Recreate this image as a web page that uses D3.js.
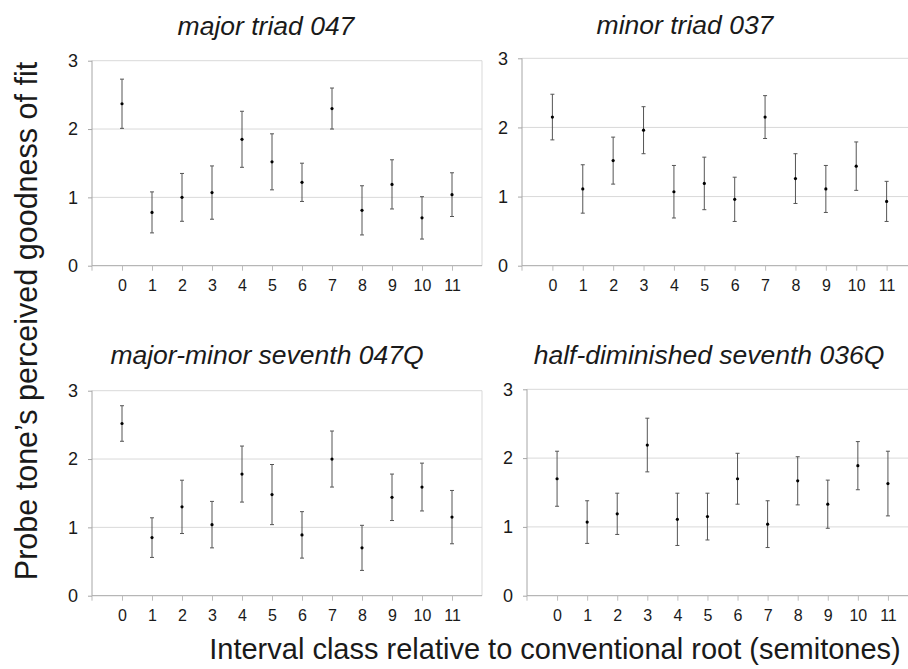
<!DOCTYPE html>
<html>
<head>
<meta charset="utf-8">
<script src="https://cdn.jsdelivr.net/npm/d3@7"></script>
<style>
  body { margin: 0; background: #fff; }
  text { font-family: Arial, "Liberation Sans", sans-serif; fill: #1a1a1a; }
</style>
</head>
<body>
<div id="chart"></div>
<script>
// categories: interval class in semitones
var categories = [0, 1, 2, 3, 4, 5, 6, 7, 8, 9, 10, 11];
var yTicks = [0, 1, 2, 3];

var titles = [
  "major triad 047",
  "minor triad 037",
  "major-minor seventh 047Q",
  "half-diminished seventh 036Q"
];

// mean ratings and error bar half-widths
var majorMean = [2.37, 0.78, 1.00, 1.07, 1.85, 1.52, 1.22, 2.30, 0.81, 1.19, 0.70, 1.04];
var majorErr  = [0.36, 0.30, 0.35, 0.39, 0.41, 0.41, 0.28, 0.30, 0.36, 0.36, 0.31, 0.32];

var minorMean = [2.15, 1.11, 1.52, 1.96, 1.07, 1.19, 0.96, 2.15, 1.26, 1.11, 1.44, 0.93];
var minorErr  = [0.33, 0.35, 0.34, 0.34, 0.38, 0.38, 0.32, 0.31, 0.36, 0.34, 0.35, 0.29];

var domSevMean = [2.52, 0.85, 1.30, 1.04, 1.78, 1.48, 0.89, 2.00, 0.70, 1.44, 1.59, 1.15];
var domSevErr  = [0.26, 0.29, 0.39, 0.34, 0.41, 0.44, 0.34, 0.41, 0.33, 0.34, 0.35, 0.39];

var halfDimMean = [1.70, 1.07, 1.19, 2.19, 1.11, 1.15, 1.70, 1.04, 1.67, 1.33, 1.89, 1.63];
var halfDimErr  = [0.40, 0.31, 0.30, 0.39, 0.38, 0.34, 0.37, 0.34, 0.35, 0.35, 0.35, 0.47];

var means = [majorMean, minorMean, domSevMean, halfDimMean];
var errs = [majorErr, minorErr, domSevErr, halfDimErr];

var font = "Arial, 'Liberation Sans', sans-serif";

// panel layout (plot area in px)
var panels = [
  { left: 92,  right: 482, top: 60.7, bottom: 265.7, tx: 266, ty: 35 },
  { left: 522, right: 917, top: 58.3, bottom: 265.7, tx: 685, ty: 34 },
  { left: 92,  right: 482, top: 390.7, bottom: 595.7, tx: 267, ty: 364 },
  { left: 527, right: 918, top: 389.3, bottom: 595.7, tx: 709, ty: 364 }
];

var W = 908, H = 669;
var svg = d3.select("#chart").append("svg")
  .attr("width", W)
  .attr("height", H);

panels.forEach(function (p, k) {
  var x = d3.scaleLinear().domain([-1, 12]).range([p.left, p.right]);
  var y = d3.scaleLinear().domain([0, 3]).range([p.bottom, p.top]);
  var g = svg.append("g");

  // gridlines
  g.selectAll(".grid")
    .data(yTicks.filter(function (d) { return d > 0; }))
    .enter()
    .append("line")
    .attr("x1", p.left).attr("x2", p.right)
    .attr("y1", function (d) { return y(d); })
    .attr("y2", function (d) { return y(d); })
    .attr("stroke", "#d9d9d9")
    .attr("stroke-width", 1);

  // right frame
  g.append("line")
    .attr("x1", p.right).attr("x2", p.right)
    .attr("y1", p.top).attr("y2", p.bottom)
    .attr("stroke", "#d9d9d9");

  // x axis
  var xAxis = g.append("g")
    .attr("transform", "translate(0," + p.bottom + ")")
    .call(d3.axisBottom(x).tickValues(categories).tickSize(5).tickPadding(9));
  xAxis.attr("font-family", font);
  xAxis.select(".domain").attr("stroke", "#a6a6a6").attr("d", "M" + p.left + ",0H" + p.right);
  xAxis.selectAll(".tick line").attr("stroke", "#bdbdbd");
  xAxis.selectAll(".tick text")
    .style("font-size", "16px")
    .style("font-family", font)
    .attr("fill", "#1a1a1a");
  xAxis.append("line")
    .attr("x1", p.left).attr("x2", p.left)
    .attr("y1", 0).attr("y2", 5)
    .attr("stroke", "#bdbdbd");

  // y axis
  var yAxis = g.append("g")
    .attr("transform", "translate(" + p.left + ",0)")
    .call(d3.axisLeft(y).tickValues(yTicks).tickFormat(d3.format("d")).tickSize(4).tickPadding(10));
  yAxis.attr("font-family", font);
  yAxis.select(".domain").attr("stroke", "#a6a6a6").attr("d", "M0," + p.top + "V" + p.bottom);
  yAxis.selectAll(".tick line").attr("stroke", "#a6a6a6");
  yAxis.selectAll(".tick text")
    .style("font-size", "18px")
    .style("font-family", font)
    .attr("fill", "#1a1a1a");

  // error bars
  var rows = categories.map(function (c, i) {
    return { c: c, m: means[k][i], e: errs[k][i] };
  });
  var bars = g.selectAll(".bar").data(rows).enter().append("g");
  bars.append("line")
    .attr("x1", function (d) { return x(d.c); })
    .attr("x2", function (d) { return x(d.c); })
    .attr("y1", function (d) { return y(d.m + d.e); })
    .attr("y2", function (d) { return y(d.m - d.e); })
    .attr("stroke", "#555");
  [1, -1].forEach(function (s) {
    bars.append("line")
      .attr("x1", function (d) { return x(d.c) - 2; })
      .attr("x2", function (d) { return x(d.c) + 2; })
      .attr("y1", function (d) { return y(d.m + s * d.e); })
      .attr("y2", function (d) { return y(d.m + s * d.e); })
      .attr("stroke", "#555");
  });
  bars.append("circle")
    .attr("cx", function (d) { return x(d.c); })
    .attr("cy", function (d) { return y(d.m); })
    .attr("r", 1.6)
    .attr("fill", "#000");

  // title
  svg.append("text")
    .attr("x", p.tx)
    .attr("y", p.ty)
    .attr("text-anchor", "middle")
    .style("font-size", "26.5px")
    .style("font-style", "italic")
    .text(titles[k]);
});

// axis labels
svg.append("text")
  .attr("transform", "translate(37,321) rotate(-90)")
  .attr("text-anchor", "middle")
  .style("font-size", "30.5px")
  .text("Probe tone\u2019s perceived goodness of fit");

svg.append("text")
  .attr("x", 555)
  .attr("y", 659)
  .attr("text-anchor", "middle")
  .style("font-size", "29px")
  .text("Interval class relative to conventional root (semitones)");
</script>
</body>
</html>
